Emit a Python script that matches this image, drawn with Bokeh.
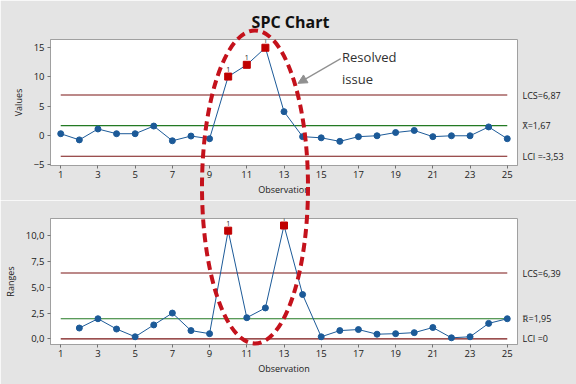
from bokeh.plotting import figure
from bokeh.layouts import column
from bokeh.models import (FixedTicker, LinearAxis, Range1d, Arrow, NormalHead, Label)
from bokeh.core.properties import value
from bokeh.embed import file_html
from bokeh.resources import INLINE

# ---------------- data ----------------
obs = list(range(1, 26))
values = [0.3, -0.75, 1.1, 0.3, 0.3, 1.6, -0.9, -0.1, -0.55, 10.0, 12.0, 14.9, 4.05,
          -0.2, -0.4, -1.0, -0.2, -0.05, 0.5, 0.85, -0.2, -0.05, -0.05, 1.45, -0.55]
range_obs = list(range(2, 26))
ranges = [1.05, 1.95, 0.95, 0.2, 1.35, 2.5, 0.8, 0.5, 10.5, 2.05, 3.0, 11.0, 4.3,
          0.2, 0.8, 0.9, 0.45, 0.5, 0.6, 1.1, 0.1, 0.2, 1.5, 1.95]
out_values = [10, 11, 12]
out_ranges = [10, 13]

x_ucl, x_cl, x_lcl = 6.87, 1.67, -3.53
r_ucl, r_cl, r_lcl = 6.39, 1.95, 0.0
x_labels = {x_ucl: "LCS=6,87", x_cl: "X\u0304=1,67", x_lcl: "LCI =-3,53"}
r_labels = {r_ucl: "LCS=6,39", r_cl: "R\u0305=1,95", r_lcl: "LCI =0"}
x_ticks = list(range(1, 26, 2))
v_ticks = [-5, 0, 5, 10, 15]
r_ticks = [0, 2.5, 5, 7.5, 10]
r_tick_labels = {0: "0,0", 2.5: "2,5", 5: "5,0", 7.5: "7,5", 10: "10,0"}
title_text = "SPC Chart"

# ---------------- style ----------------
FONT = "Open Sans"
BG = "#e4e4e4"
FRAME = "#a0a0a0"
BLUE = "#1c5a98"
DRED = "#7a1414"
GREEN = "#237a23"
RED = "#c00000"
ERED = "#c4121c"

W, H = 576, 384
BL, FW, BR = 48, 467, 61
FH = 126
H1, T1, B1 = 200, 39, 35
H2, T2, B2 = 184, 18, 40
XR = (0.45, 25.55)
YR1 = (-5.1, 16.3)
YR2 = (-0.55, 11.68)


def make_fig(top, bottom, yr):
    p = figure(frame_width=FW, frame_height=FH, x_range=Range1d(*XR), y_range=Range1d(*yr),
               output_backend="svg", toolbar_location=None, tools="",
               min_border_left=BL, min_border_right=BR, min_border_top=top,
               min_border_bottom=bottom, background_fill_color="white",
               border_fill_color=BG, outline_line_color=FRAME)
    p.grid.visible = False
    for ax in (p.xaxis[0], p.yaxis[0]):
        ax.axis_line_color = FRAME
        ax.major_tick_line_color = "#707070"
        ax.minor_tick_line_color = None
        ax.major_tick_in = 0
        ax.major_tick_out = 3
        ax.major_label_text_font = FONT
        ax.major_label_text_font_size = "9.5px"
        ax.major_label_text_color = "#202020"
        ax.axis_label_text_font = FONT
        ax.axis_label_text_font_size = "9px"
        ax.axis_label_text_font_style = "normal"
        ax.axis_label_text_color = "#202020"
    p.xaxis.ticker = FixedTicker(ticks=x_ticks)
    p.xaxis.axis_label = "Observation"
    p.xaxis.major_label_standoff = 2
    p.xaxis.axis_label_standoff = 2
    p.yaxis.major_label_standoff = 3
    p.yaxis.axis_label_standoff = 6
    return p


# ---------------- top: individual values ----------------
p1 = make_fig(T1, B1, YR1)
p1.yaxis.ticker = FixedTicker(ticks=v_ticks)
p1.yaxis.axis_label = "Values"

for yv, col in ((x_ucl, DRED), (x_cl, GREEN), (x_lcl, DRED)):
    p1.line([obs[0], obs[-1]], [yv, yv], line_color=col, line_width=1.2)
p1.line(obs, values, line_color=BLUE, line_width=1)
norm = [(o, v) for o, v in zip(obs, values) if o not in out_values]
p1.scatter([a for a, _ in norm], [b for _, b in norm], size=6, color=BLUE)
ov = [values[obs.index(o)] for o in out_values]
p1.scatter(out_values, ov, marker="square", size=7, color=RED)
p1.text(out_values, ov, text=["1"] * len(out_values), y_offset=-5, text_align="center",
        text_baseline="bottom", text_font=value(FONT), text_font_size="7px", text_color="#202020")

ax_r1 = LinearAxis(ticker=FixedTicker(ticks=list(x_labels.keys())),
                   major_label_overrides=x_labels)
p1.add_layout(ax_r1, "right")

# ---------------- bottom: ranges ----------------
p2 = make_fig(T2, B2, YR2)
p2.yaxis.ticker = FixedTicker(ticks=r_ticks)
p2.yaxis.major_label_overrides = r_tick_labels
p2.yaxis.axis_label = "Ranges"

for yv, col in ((r_ucl, DRED), (r_cl, GREEN), (r_lcl, DRED)):
    p2.line([obs[0], obs[-1]], [yv, yv], line_color=col, line_width=1.2)
p2.line(range_obs, ranges, line_color=BLUE, line_width=1)
norm = [(o, v) for o, v in zip(range_obs, ranges) if o not in out_ranges]
p2.scatter([a for a, _ in norm], [b for _, b in norm], size=6, color=BLUE)
orv = [ranges[range_obs.index(o)] for o in out_ranges]
p2.scatter(out_ranges, orv, marker="square", size=7, color=RED)
p2.text(out_ranges, orv, text=["1"] * len(out_ranges), y_offset=-5, text_align="center",
        text_baseline="bottom", text_font=value(FONT), text_font_size="7px", text_color="#202020")

ax_r2 = LinearAxis(ticker=FixedTicker(ticks=list(r_labels.keys())),
                   major_label_overrides=r_labels)
p2.add_layout(ax_r2, "right")

for ax in (ax_r1, ax_r2):
    ax.axis_line_color = None
    ax.major_tick_line_color = None
    ax.minor_tick_line_color = None
    ax.major_tick_out = 0
    ax.major_label_standoff = 5
    ax.major_label_text_font = FONT
    ax.major_label_text_font_size = "9px"
    ax.major_label_text_color = "#202020"

p1.add_layout(Arrow(x_start=16.05, y_start=13.05, x_end=13.75, y_end=8.85,
                    line_color="#909090", line_width=1.2,
                    end=NormalHead(size=9, fill_color="#909090", line_color="#909090")))
p1.add_layout(Label(x=16.12, y=14.85, text="Resolved\nissue", text_font=FONT,
                    text_font_size="13px", text_color="#303030", text_baseline="top",
                    text_line_height=1.2))

# ---------------- transparent overlay (page pixels): title and highlight ellipse ----------------
ECX, ECY, EW, EH = 252.5, 186.5, 106.0, 313.0
p3 = figure(frame_width=FW, frame_height=H, x_range=Range1d(BL, BL + FW), y_range=Range1d(H, 0),
            output_backend="svg", toolbar_location=None, tools="",
            x_axis_location=None, y_axis_location=None,
            min_border_left=BL, min_border_right=BR, min_border_top=0, min_border_bottom=0,
            background_fill_alpha=0, border_fill_alpha=0, outline_line_color=None,
            styles={"position": "absolute", "top": "0px", "left": "0px"})
p3.grid.visible = False
p3.ellipse(x=[ECX], y=[ECY], width=[EW], height=[EH], fill_color=None,
           line_color=ERED, line_width=4, line_dash="9 5")
p3.add_layout(Label(x=288, y=21, text=title_text, text_font=FONT, text_font_size="16px",
                    text_font_style="bold", text_color="#111111", text_align="center",
                    text_baseline="alphabetic"))

layout = column(p1, p2, p3, spacing=0, styles={"position": "relative"})
open("out.html", "w").write(file_html(layout, INLINE))
